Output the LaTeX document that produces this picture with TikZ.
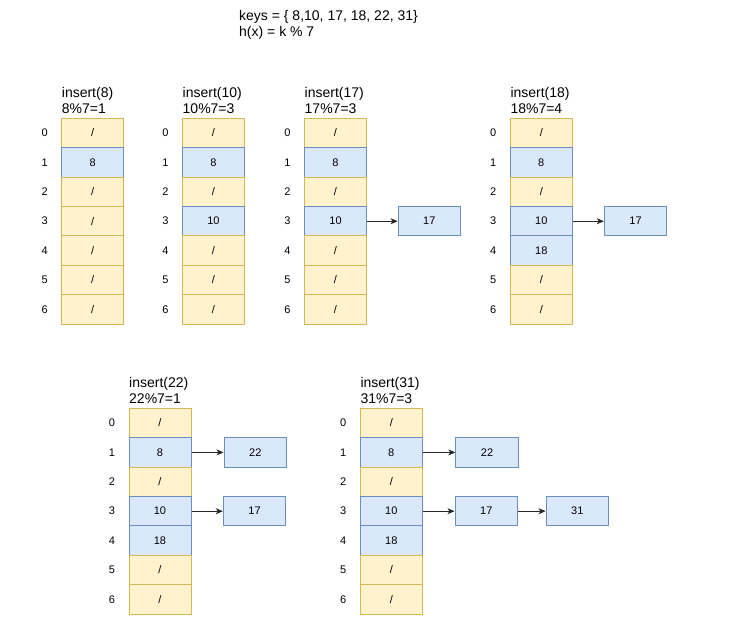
\documentclass[tikz,border=0pt]{standalone}
\usepackage{fontspec}
\setmainfont{Liberation Sans}
\usetikzlibrary{arrows.meta,positioning}
\definecolor{yfill}{HTML}{FFF2CC}
\definecolor{ydraw}{HTML}{D6B656}
\definecolor{bfill}{HTML}{DAE8FC}
\definecolor{bdraw}{HTML}{6C8EBF}
\tikzset{
 cell/.style={minimum width=62pt, minimum height=29.4pt, inner sep=0, line width=1pt, font=\fontsize{11}{13}\selectfont},
 celle/.style={cell, fill=yfill, draw=ydraw},
 cellf/.style={cell, fill=bfill, draw=bdraw},
 chainbox/.style={cellf, minimum width=62.5pt, minimum height=29.5pt},
 idx/.style={font=\fontsize{11}{13}\selectfont, inner sep=0},
 hdr/.style={font=\fontsize{14}{16}\selectfont, align=left, inner sep=0, anchor=north west},
 link/.style={line width=0.8pt, draw=black!85, -{Stealth[length=7pt,width=6pt,inset=2pt]}}
}
\newcommand\hashtab[5]{%
 \node[hdr] (#1-h) at (#2, #3-31.2) {#4};
 \foreach \s/\v [count=\i from 0] in {#5} {
   \node[cell\s] (#1-\i) at ({#2+31}, {#3+(\i+0.5)*29.4}) {\v};
   \node[idx] (#1-i\i) at ({#2-17}, {#3+(\i+0.5)*29.4}) {\i};
 }
}
\begin{document}
\begin{tikzpicture}[x=1pt,y=-1pt]
\useasboundingbox[fill=white] (0,0) rectangle (748,640);
\node[hdr] (title) at (239,10.5) {keys = \{ 8,10, 17, 18, 22, 31\}\\h(x) = k \% 7};

\hashtab{a}{61.7}{118.3}{insert(8)\\8\%7=1}{e/{/},f/8,e/{/},e/{/},e/{/},e/{/},e/{/}}
\hashtab{b}{182.5}{118.3}{insert(10)\\10\%7=3}{e/{/},f/8,e/{/},f/10,e/{/},e/{/},e/{/}}
\hashtab{c}{304.5}{118.3}{insert(17)\\17\%7=3}{e/{/},f/8,e/{/},f/10,e/{/},e/{/},e/{/}}
\hashtab{d}{510.3}{118.3}{insert(18)\\18\%7=4}{e/{/},f/8,e/{/},f/10,f/18,e/{/},e/{/}}
\hashtab{e}{129}{408.3}{insert(22)\\22\%7=1}{e/{/},f/8,e/{/},f/10,f/18,e/{/},e/{/}}
\hashtab{f}{360.3}{408.3}{insert(31)\\31\%7=3}{e/{/},f/8,e/{/},f/10,f/18,e/{/},e/{/}}

\node[chainbox, right=30.6pt of c-3] (c17) {17};
\node[chainbox, right=31pt of d-3] (d17) {17};
\node[chainbox, right=32pt of e-1] (e22) {22};
\node[chainbox, right=31.3pt of e-3] (e17) {17};
\node[chainbox, right=32.5pt of f-1] (f22) {22};
\node[chainbox, right=31.7pt of f-3] (f17) {17};
\node[chainbox, right=27.5pt of f17] (f31) {31};

\draw[link] (c-3) -- (c17);
\draw[link] (d-3) -- (d17);
\draw[link] (e-1) -- (e22);
\draw[link] (e-3) -- (e17);
\draw[link] (f-1) -- (f22);
\draw[link] (f-3) -- (f17);
\draw[link] (f17) -- (f31);
\end{tikzpicture}
\end{document}
